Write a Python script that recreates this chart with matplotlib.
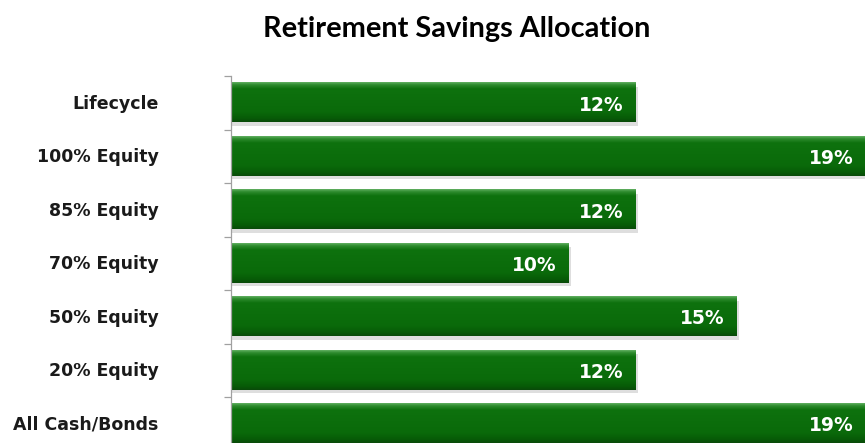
import numpy as np
import matplotlib.pyplot as plt
from matplotlib.colors import LinearSegmentedColormap

categories = ["Lifecycle", "100% Equity", "85% Equity", "70% Equity",
              "50% Equity", "20% Equity", "All Cash/Bonds"]
shares = [12, 19, 12, 10, 15, 12, 19]
value_labels = ["12%", "19%", "12%", "10%", "15%", "12%", "19%"]

fig = plt.figure(figsize=(8.65, 4.43), dpi=100)
ax = fig.add_axes([0.267, -0.017, 0.733, 0.845])

# vertical shading for the bevelled bars (top -> bottom)
bar_cmap = LinearSegmentedColormap.from_list(
    "bevel", [(0.0, "#5fae5f"), (0.06, "#2f8c2f"), (0.16, "#0e720e"),
              (0.75, "#0a6a0a"), (0.92, "#075a07"), (1.0, "#0a4a0a")])
grad = np.linspace(0, 1, 64).reshape(-1, 1)

h = 0.73
n = len(categories)
xmax = 18.81
for i, (v, lab) in enumerate(zip(shares, value_labels)):
    y = i
    # soft shadow under each bar
    ax.barh(y + 0.06, v + 0.08, height=h, left=0, color="#c8c8c8",
            alpha=0.6, zorder=1)
    ax.imshow(grad, cmap=bar_cmap, aspect="auto", zorder=2,
              extent=(0, v, y + h / 2, y - h / 2), interpolation="bilinear")
    ax.text(min(v, xmax) - 0.35, y + 0.04, lab, ha="right", va="center",
            color="white", fontsize=13.5, fontweight="bold",
            family="DejaVu Sans", zorder=3)

ax.set_xlim(0, xmax)
ax.set_ylim(n - 0.5, -0.5)
ax.set_yticks(np.arange(n + 1) - 0.5)
ax.set_yticklabels([])
for i, c in enumerate(categories):
    ax.text(-2.15, i + 0.02, c, ha="right", va="center", fontsize=12.5,
            fontweight="bold", color="#1a1a1a", family="DejaVu Sans")

ax.set_xticks([])
for s in ["top", "right", "bottom"]:
    ax.spines[s].set_visible(False)
ax.spines["left"].set_color("#a0a0a0")
ax.spines["left"].set_linewidth(0.9)
ax.tick_params(axis="y", length=5, color="#a0a0a0", width=0.9)

fig.text(0.528, 0.917, "Retirement Savings Allocation", ha="center",
         va="baseline", fontsize=20.8, fontweight="bold", family="Lato")

fig.savefig("out.png", dpi=100)
